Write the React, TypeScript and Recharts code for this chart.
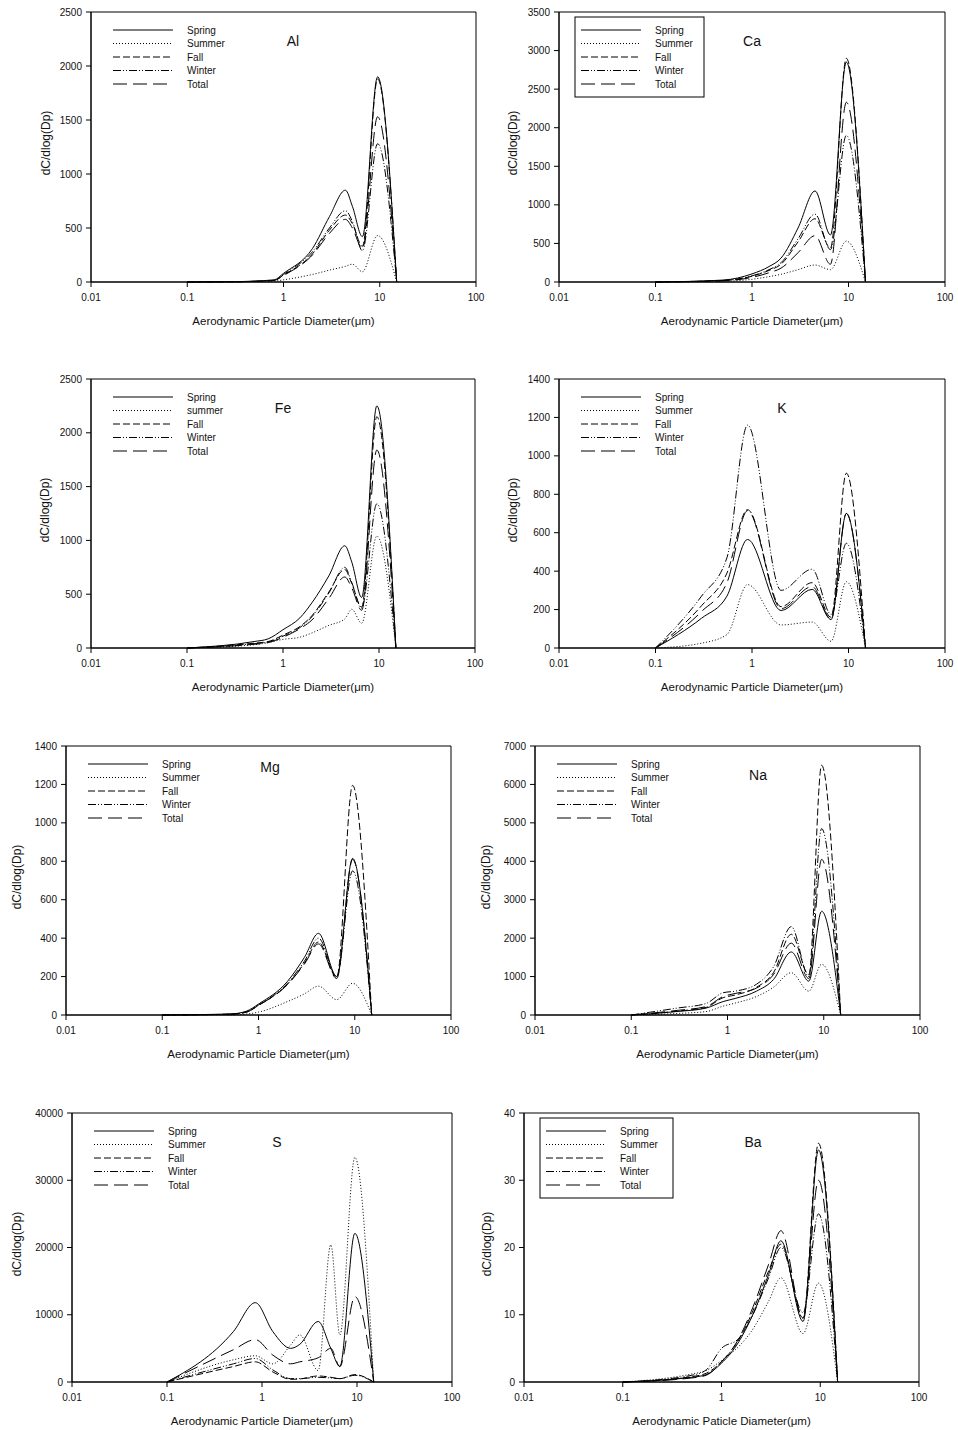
import { LineChart, Line, XAxis, YAxis, ReferenceArea } from "recharts";

// series order in every panel
const SEASONS = ["Spring", "Summer", "Fall", "Winter", "Total"];
const FE_NAMES = ["Spring", "summer", "Fall", "Winter", "Total"];
const DASHES = [undefined, "1 2", "7 3", "8 2 1 2 1 2", "14 6"];
const X_TICKS = [0.01, 0.1, 1, 10, 100];
const X_TITLE = "Aerodynamic Particle Diameter(\u03bcm)";
const BA_X_TITLE = "Aerodynamic Paticle Diameter(\u03bcm)";
const Y_TITLE = "dC/dlog(Dp)";

// Al
const alX = [0.1, 0.3, 0.8, 1, 2, 3, 4.4, 5.2, 6.6, 9.5, 15];
const alY = [
  [0, 3, 20, 80, 310, 605, 850, 700, 420, 1900, 0],
  [0, 2, 8, 20, 70, 110, 145, 165, 95, 430, 0],
  [0, 2, 15, 65, 260, 480, 620, 540, 330, 1880, 0],
  [0, 2, 15, 70, 280, 500, 660, 560, 290, 1280, 0],
  [0, 2, 15, 60, 250, 450, 580, 500, 310, 1530, 0],
];
const alTicks = [0, 500, 1000, 1500, 2000, 2500];

// Ca
const caX = [0.1, 0.5, 1, 1.5, 2, 3, 4.5, 6.5, 9.5, 15];
const caY = [
  [0, 25, 105, 200, 310, 700, 1180, 610, 2850, 0],
  [0, 10, 35, 70, 100, 160, 220, 160, 530, 0],
  [0, 20, 75, 150, 230, 520, 820, 440, 2900, 0],
  [0, 20, 80, 160, 250, 560, 880, 420, 1900, 0],
  [0, 15, 60, 120, 180, 380, 600, 230, 2330, 0],
];
const caTicks = [0, 500, 1000, 1500, 2000, 2500, 3000, 3500];

// Fe
const feX = [0.1, 0.5, 0.7, 1, 1.5, 2, 3, 4.4, 5.2, 6.6, 9.5, 15];
const feY = [
  [0, 60, 85, 170, 280, 420, 670, 950, 800, 470, 2250, 0],
  [0, 30, 50, 80, 100, 140, 210, 270, 360, 230, 1040, 0],
  [0, 45, 60, 120, 200, 300, 520, 730, 600, 380, 2150, 0],
  [0, 40, 55, 110, 190, 290, 510, 750, 610, 370, 1340, 0],
  [0, 35, 50, 100, 180, 260, 460, 660, 560, 350, 1840, 0],
];
const feTicks = [0, 500, 1000, 1500, 2000, 2500];

// K
const kX = [0.1, 0.3, 0.55, 0.9, 2, 4.2, 6.6, 9.5, 15];
const kY = [
  [0, 155, 270, 565, 195, 305, 148, 700, 0],
  [0, 25, 70, 330, 120, 135, 35, 345, 0],
  [0, 220, 390, 720, 215, 340, 160, 910, 0],
  [0, 270, 470, 1160, 300, 410, 175, 545, 0],
  [0, 190, 340, 715, 205, 320, 150, 700, 0],
];
const kTicks = [0, 200, 400, 600, 800, 1000, 1200, 1400];

// Mg
const mgX = [0.1, 0.5, 0.75, 1, 2, 3, 4.2, 6.5, 9.5, 15];
const mgY = [
  [0, 5, 20, 57, 175, 300, 425, 200, 815, 0],
  [0, 1, 5, 15, 70, 110, 150, 80, 165, 0],
  [0, 4, 15, 50, 160, 270, 380, 195, 1195, 0],
  [0, 4, 16, 52, 165, 280, 400, 200, 750, 0],
  [0, 4, 15, 50, 158, 265, 370, 190, 810, 0],
];
const mgTicks = [0, 200, 400, 600, 800, 1000, 1200, 1400];

// Na
const naX = [0.1, 0.3, 0.6, 0.9, 1.2, 2, 3, 4.6, 7, 9.5, 15];
const naY = [
  [0, 90, 180, 350, 430, 620, 920, 1640, 880, 2700, 0],
  [0, 40, 90, 230, 310, 480, 720, 1100, 620, 1320, 0],
  [0, 100, 200, 450, 520, 720, 1100, 2100, 1050, 6500, 0],
  [0, 180, 300, 580, 620, 800, 1250, 2300, 1000, 4850, 0],
  [0, 120, 220, 480, 560, 700, 1050, 1870, 950, 4050, 0],
];
const naTicks = [0, 1000, 2000, 3000, 4000, 5000, 6000, 7000];

// S
const sX = [0.1, 0.5, 0.85, 1.3, 2, 2.5, 3.9, 5.3, 6.6, 9.5, 15];
const sY = [
  [0, 7500, 11800, 7500, 5000, 5600, 9000, 5000, 2300, 22100, 0],
  [0, 3300, 3900, 2700, 5500, 7000, 1700, 20400, 7000, 33400, 0],
  [0, 2300, 3000, 1500, 400, 450, 900, 700, 500, 1100, 0],
  [0, 2700, 3500, 1800, 500, 500, 700, 600, 500, 1000, 0],
  [0, 4800, 6300, 4000, 2700, 3000, 3600, 5000, 2300, 12700, 0],
];
const sTicks = [0, 10000, 20000, 30000, 40000];

// Ba
const baX = [0.1, 0.5, 0.7, 1, 1.5, 2, 3, 4, 6.7, 9.6, 15];
const baY = [
  [0, 0.7, 1.1, 2.8, 6, 9.5, 16, 21, 9, 34.5, 0],
  [0, 1.2, 1.7, 3.2, 5.3, 7.5, 12, 15.5, 7.2, 14.7, 0],
  [0, 0.8, 1.3, 3, 6.3, 10, 16.5, 20.5, 9.5, 35.5, 0],
  [0, 1, 1.8, 5, 6.5, 9.5, 15.5, 20, 10.3, 25, 0],
  [0, 0.6, 1, 3, 6.5, 10.5, 17.5, 22.5, 9.5, 30, 0],
];
const baTicks = [0, 10, 20, 30, 40];

const PANELS = [
  { name: "Al", x: alX, y: alY, ticks: alTicks, left: 91, top: 12, w: 385, h: 270, lx: 202, ly: 29, box: false, names: SEASONS, xTitle: X_TITLE, yt: -45 },
  { name: "Ca", x: caX, y: caY, ticks: caTicks, left: 559, top: 12, w: 386, h: 270, lx: 193, ly: 29, box: true, names: SEASONS, xTitle: X_TITLE, yt: -46 },
  { name: "Fe", x: feX, y: feY, ticks: feTicks, left: 91, top: 379, w: 384, h: 269, lx: 192, ly: 29, box: false, names: FE_NAMES, xTitle: X_TITLE, yt: -46 },
  { name: "K", x: kX, y: kY, ticks: kTicks, left: 559, top: 379, w: 386, h: 269, lx: 223, ly: 29, box: false, names: SEASONS, xTitle: X_TITLE, yt: -46 },
  { name: "Mg", x: mgX, y: mgY, ticks: mgTicks, left: 66, top: 746, w: 385, h: 269, lx: 204, ly: 21, box: false, names: SEASONS, xTitle: X_TITLE, yt: -49 },
  { name: "Na", x: naX, y: naY, ticks: naTicks, left: 535, top: 746, w: 385, h: 269, lx: 223, ly: 29, box: false, names: SEASONS, xTitle: X_TITLE, yt: -49 },
  { name: "S", x: sX, y: sY, ticks: sTicks, left: 72, top: 1113, w: 380, h: 269, lx: 205, ly: 29, box: false, names: SEASONS, xTitle: X_TITLE, yt: -55 },
  { name: "Ba", x: baX, y: baY, ticks: baTicks, left: 524, top: 1113, w: 395, h: 269, lx: 229, ly: 29, box: true, names: SEASONS, xTitle: BA_X_TITLE, yt: -37 },
];

const FONT = "'Liberation Sans', Arial, sans-serif";
const INK = "#111";

function Panel({ p }: { p: (typeof PANELS)[number] }) {
  const rows = p.x.map((x, i) => {
    const r: Record<string, number> = { x };
    SEASONS.forEach((s, k) => (r[s] = p.y[k][i]));
    return r;
  });
  const yMax = p.ticks[p.ticks.length - 1];

  return (
    <>
      <div style={{ position: "absolute", left: p.left - 60, top: p.top - 5 }}>
        <LineChart
          width={60 + p.w + 20}
          height={5 + p.h + 45}
          data={rows}
          margin={{ top: 5, right: 20, bottom: 0, left: 0 }}
        >
          <XAxis
            dataKey="x"
            type="number"
            scale="log"
            domain={[0.01, 100]}
            ticks={X_TICKS}
            allowDataOverflow
            interval={0}
            height={45}
            tickSize={5}
            tickMargin={7}
            stroke="#000"
            tick={{ fontSize: 10, fill: INK, fontFamily: FONT }}
            tickFormatter={(v) => String(v)}
          />
          <YAxis
            type="number"
            domain={[0, yMax]}
            ticks={p.ticks}
            interval={0}
            width={60}
            tickSize={5}
            tickMargin={4}
            stroke="#000"
            tick={{ fontSize: 10, fill: INK, fontFamily: FONT }}
          />
          <ReferenceArea x1={0.01} x2={100} y1={0} y2={yMax} fill="none" stroke="#000" strokeWidth={1} />
          {SEASONS.map((s, k) => (
            <Line
              key={s}
              dataKey={s}
              type="monotone"
              stroke="#000"
              strokeWidth={1}
              strokeDasharray={DASHES[k]}
              dot={false}
              isAnimationActive={false}
            />
          ))}
        </LineChart>
      </div>

      {/* legend + element name */}
      <svg
        style={{ position: "absolute", left: p.left, top: p.top, overflow: "visible" }}
        width={p.w}
        height={p.h}
        fontFamily={FONT}
      >
        {p.box && <rect x={16} y={5} width={p.name === "Ba" ? 133 : 129} height={80} fill="none" stroke="#000" />}
        {p.names.map((n, k) => (
          <g key={n}>
            <line x1={22} x2={82} y1={18 + k * 13.5} y2={18 + k * 13.5} stroke="#000" strokeDasharray={DASHES[k]} />
            <text x={96} y={18 + k * 13.5} dy="0.35em" fontSize={10} fill={INK}>
              {n}
            </text>
          </g>
        ))}
        <text x={p.lx} y={p.ly} dy="0.35em" textAnchor="middle" fontSize={14} fill={INK}>
          {p.name}
        </text>
      </svg>

      <div
        style={{
          position: "absolute",
          left: p.left + p.w / 2,
          top: p.top + p.h + 39,
          transform: "translate(-50%, -50%)",
          whiteSpace: "nowrap",
          fontSize: 11.5,
          color: INK,
          fontFamily: FONT,
        }}
      >
        {p.xTitle}
      </div>
      <div
        style={{
          position: "absolute",
          left: p.left + p.yt,
          top: p.top + p.h / 2 - 4,
          transform: "translate(-50%, -50%) rotate(-90deg)",
          whiteSpace: "nowrap",
          fontSize: 12,
          color: INK,
          fontFamily: FONT,
        }}
      >
        {Y_TITLE}
      </div>
    </>
  );
}

export default function App() {
  return (
    <div style={{ position: "absolute", left: 0, top: 0, width: 958, height: 1430, background: "#fff" }}>
      {PANELS.map((p) => (
        <Panel key={p.name} p={p} />
      ))}
    </div>
  );
}
